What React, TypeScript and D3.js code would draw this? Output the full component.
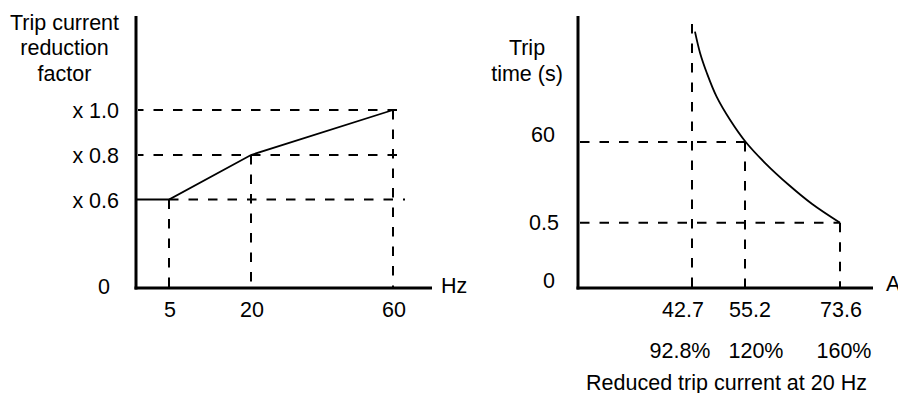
import React from "react";
import * as d3 from "d3";

// ---------- Left chart data ----------
const freqTicks = [5, 20, 60];
const factorTicks = [0.6, 0.8, 1.0];
const factorTickLabels = ["x 0.6", "x 0.8", "x 1.0"];
const reductionFreq = [0, 5, 20, 60];
const reductionFactor = [0.6, 0.6, 0.8, 1.0];
const leftTitle = ["Trip current", "reduction", "factor"];

// ---------- Right chart data ----------
const currentTicks = [42.7, 55.2, 73.6];
const currentTickLabels = ["42.7", "55.2", "73.6"];
const percentLabels = ["92.8%", "120%", "160%"];
const timeTicks = [0.5, 60];
const timeTickLabels = ["0.5", "60"];
const curveCurrent = [43.4, 44.6, 46.2, 48.5, 51.7, 55.3, 59.1, 63.7, 68.2, 73.6];
const curveTime = [138.8, 123.6, 109.3, 92.4, 75.7, 60.2, 44.5, 28.3, 14.3, 0.5];
const rightTitle = ["Trip", "time (s)"];
const bottomTitle = "Reduced trip current at 20 Hz";

const FONT = "'Liberation Sans', Arial, Helvetica, sans-serif";
const FS = 21.5;
const DASH = "9.5 10";

export default function App() {
  // left scales (schematic, piecewise)
  const xL = d3.scaleLinear().domain([0, 5, 20, 60]).range([136, 169, 251, 393]);
  const yL = d3.scaleLinear().domain([0, 0.6, 0.8, 1.0]).range([288, 199.5, 155, 110]);
  // right scales (schematic, piecewise)
  const xR = d3.scaleLinear().domain([0, 42.7, 55.2, 73.6]).range([578, 692, 745, 840]);
  const yR = d3.scaleLinear().domain([0, 0.5, 60, 150]).range([288, 222.7, 142, 16]);

  const lineL = d3
    .line<number>()
    .x((_, i) => xL(reductionFreq[i]))
    .y((d) => yL(d));
  const lineR = d3
    .line<number>()
    .x((_, i) => xR(curveCurrent[i]))
    .y((d) => yR(d))
    .curve(d3.curveCatmullRom.alpha(0.5));

  const dashStyle = { stroke: "#000", strokeWidth: 2, strokeDasharray: DASH, fill: "none" };
  const txt = { fontFamily: FONT, fontSize: FS, fill: "#000" };

  return (
    <svg
      width={898}
      height={393}
      style={{ position: "absolute", left: 0, top: 0, background: "#fff" }}
    >
      {/* ===== Left chart ===== */}
      {leftTitle.map((t, i) => (
        <text key={t} x={64.5} y={29.5 + i * 25.8} textAnchor="middle" {...txt}>
          {t}
        </text>
      ))}
      {/* horizontal dashed reference lines */}
      {factorTicks.map((f) => (
        <line
          key={"hl" + f}
          x1={f === 0.6 ? xL(5) : xL(0) + 2}
          x2={xL(60) + (f === 0.6 ? 12 : 7)}
          y1={yL(f)}
          y2={yL(f)}
          strokeDashoffset={f === 0.6 ? 0 : 4}
          {...dashStyle}
        />
      ))}
      {/* vertical dashed reference lines */}
      {freqTicks.map((f, i) => (
        <line
          key={"vl" + f}
          x1={xL(f)}
          x2={xL(f)}
          y1={yL(reductionFactor[i + 1])}
          y2={yL(0)}
          {...dashStyle}
        />
      ))}
      <path d={lineL(reductionFactor) || ""} stroke="#000" strokeWidth={1.8} fill="none" />
      {/* axes */}
      <line x1={xL(0)} x2={xL(0)} y1={16} y2={yL(0) + 1.5} stroke="#000" strokeWidth={3} />
      <line x1={xL(0) - 1.5} x2={432} y1={yL(0)} y2={yL(0)} stroke="#000" strokeWidth={3} />
      {factorTicks.map((f, i) => (
        <text key={"yl" + f} x={119} y={yL(f) + 8} textAnchor="end" {...txt}>
          {factorTickLabels[i]}
        </text>
      ))}
      <text x={110} y={yL(0) + 6} textAnchor="end" {...txt}>
        0
      </text>
      {freqTicks.map((f) => (
        <text key={"xl" + f} x={xL(f) + 1} y={317} textAnchor="middle" {...txt}>
          {f}
        </text>
      ))}
      <text x={441} y={yL(0) + 5} {...txt}>
        Hz
      </text>

      {/* ===== Right chart ===== */}
      {rightTitle.map((t, i) => (
        <text key={t} x={527} y={54.5 + i * 26.5} textAnchor="middle" {...txt}>
          {t}
        </text>
      ))}
      {/* horizontal dashed */}
      {timeTicks.map((t) => (
        <line
          key={"rh" + t}
          x1={xR(0) + 2}
          x2={t === 60 ? xR(55.2) : xR(73.6)}
          y1={yR(t)}
          y2={yR(t)}
          {...dashStyle}
        />
      ))}
      {/* vertical dashed */}
      <line x1={xR(42.7)} x2={xR(42.7)} y1={24} y2={yR(0)} {...dashStyle} />
      <line x1={xR(55.2)} x2={xR(55.2)} y1={yR(60)} y2={yR(0)} {...dashStyle} />
      <line x1={xR(73.6)} x2={xR(73.6)} y1={yR(0.5)} y2={yR(0)} {...dashStyle} />
      <path d={lineR(curveTime) || ""} stroke="#000" strokeWidth={1.8} fill="none" />
      {/* axes */}
      <line x1={xR(0)} x2={xR(0)} y1={16} y2={yR(0) + 1.5} stroke="#000" strokeWidth={3} />
      <line x1={xR(0) - 1.5} x2={873} y1={yR(0)} y2={yR(0)} stroke="#000" strokeWidth={3} />
      {timeTicks.map((t, i) => (
        <text key={"ry" + t} x={t === 0.5 ? 559 : 555} y={yR(t) + (t === 60 ? 0 : 7)} textAnchor="end" {...txt}>
          {timeTickLabels[i]}
        </text>
      ))}
      <text x={555} y={288} textAnchor="end" {...txt}>
        0
      </text>
      {currentTicks.map((c, i) => (
        <text
          key={"rx" + c}
          x={xR(c) + (i === 0 ? -9 : i === 1 ? 5 : 1)}
          y={317}
          textAnchor="middle"
          {...txt}
        >
          {currentTickLabels[i]}
        </text>
      ))}
      {currentTicks.map((c, i) => (
        <text
          key={"rp" + c}
          x={xR(c) + (i === 0 ? -12 : i === 1 ? 11 : 4)}
          y={357.5}
          textAnchor="middle"
          {...txt}
        >
          {percentLabels[i]}
        </text>
      ))}
      <text x={886} y={yR(0) + 3} {...txt}>
        A
      </text>
      <text x={726.5} y={389.5} textAnchor="middle" {...txt}>
        {bottomTitle}
      </text>
    </svg>
  );
}
